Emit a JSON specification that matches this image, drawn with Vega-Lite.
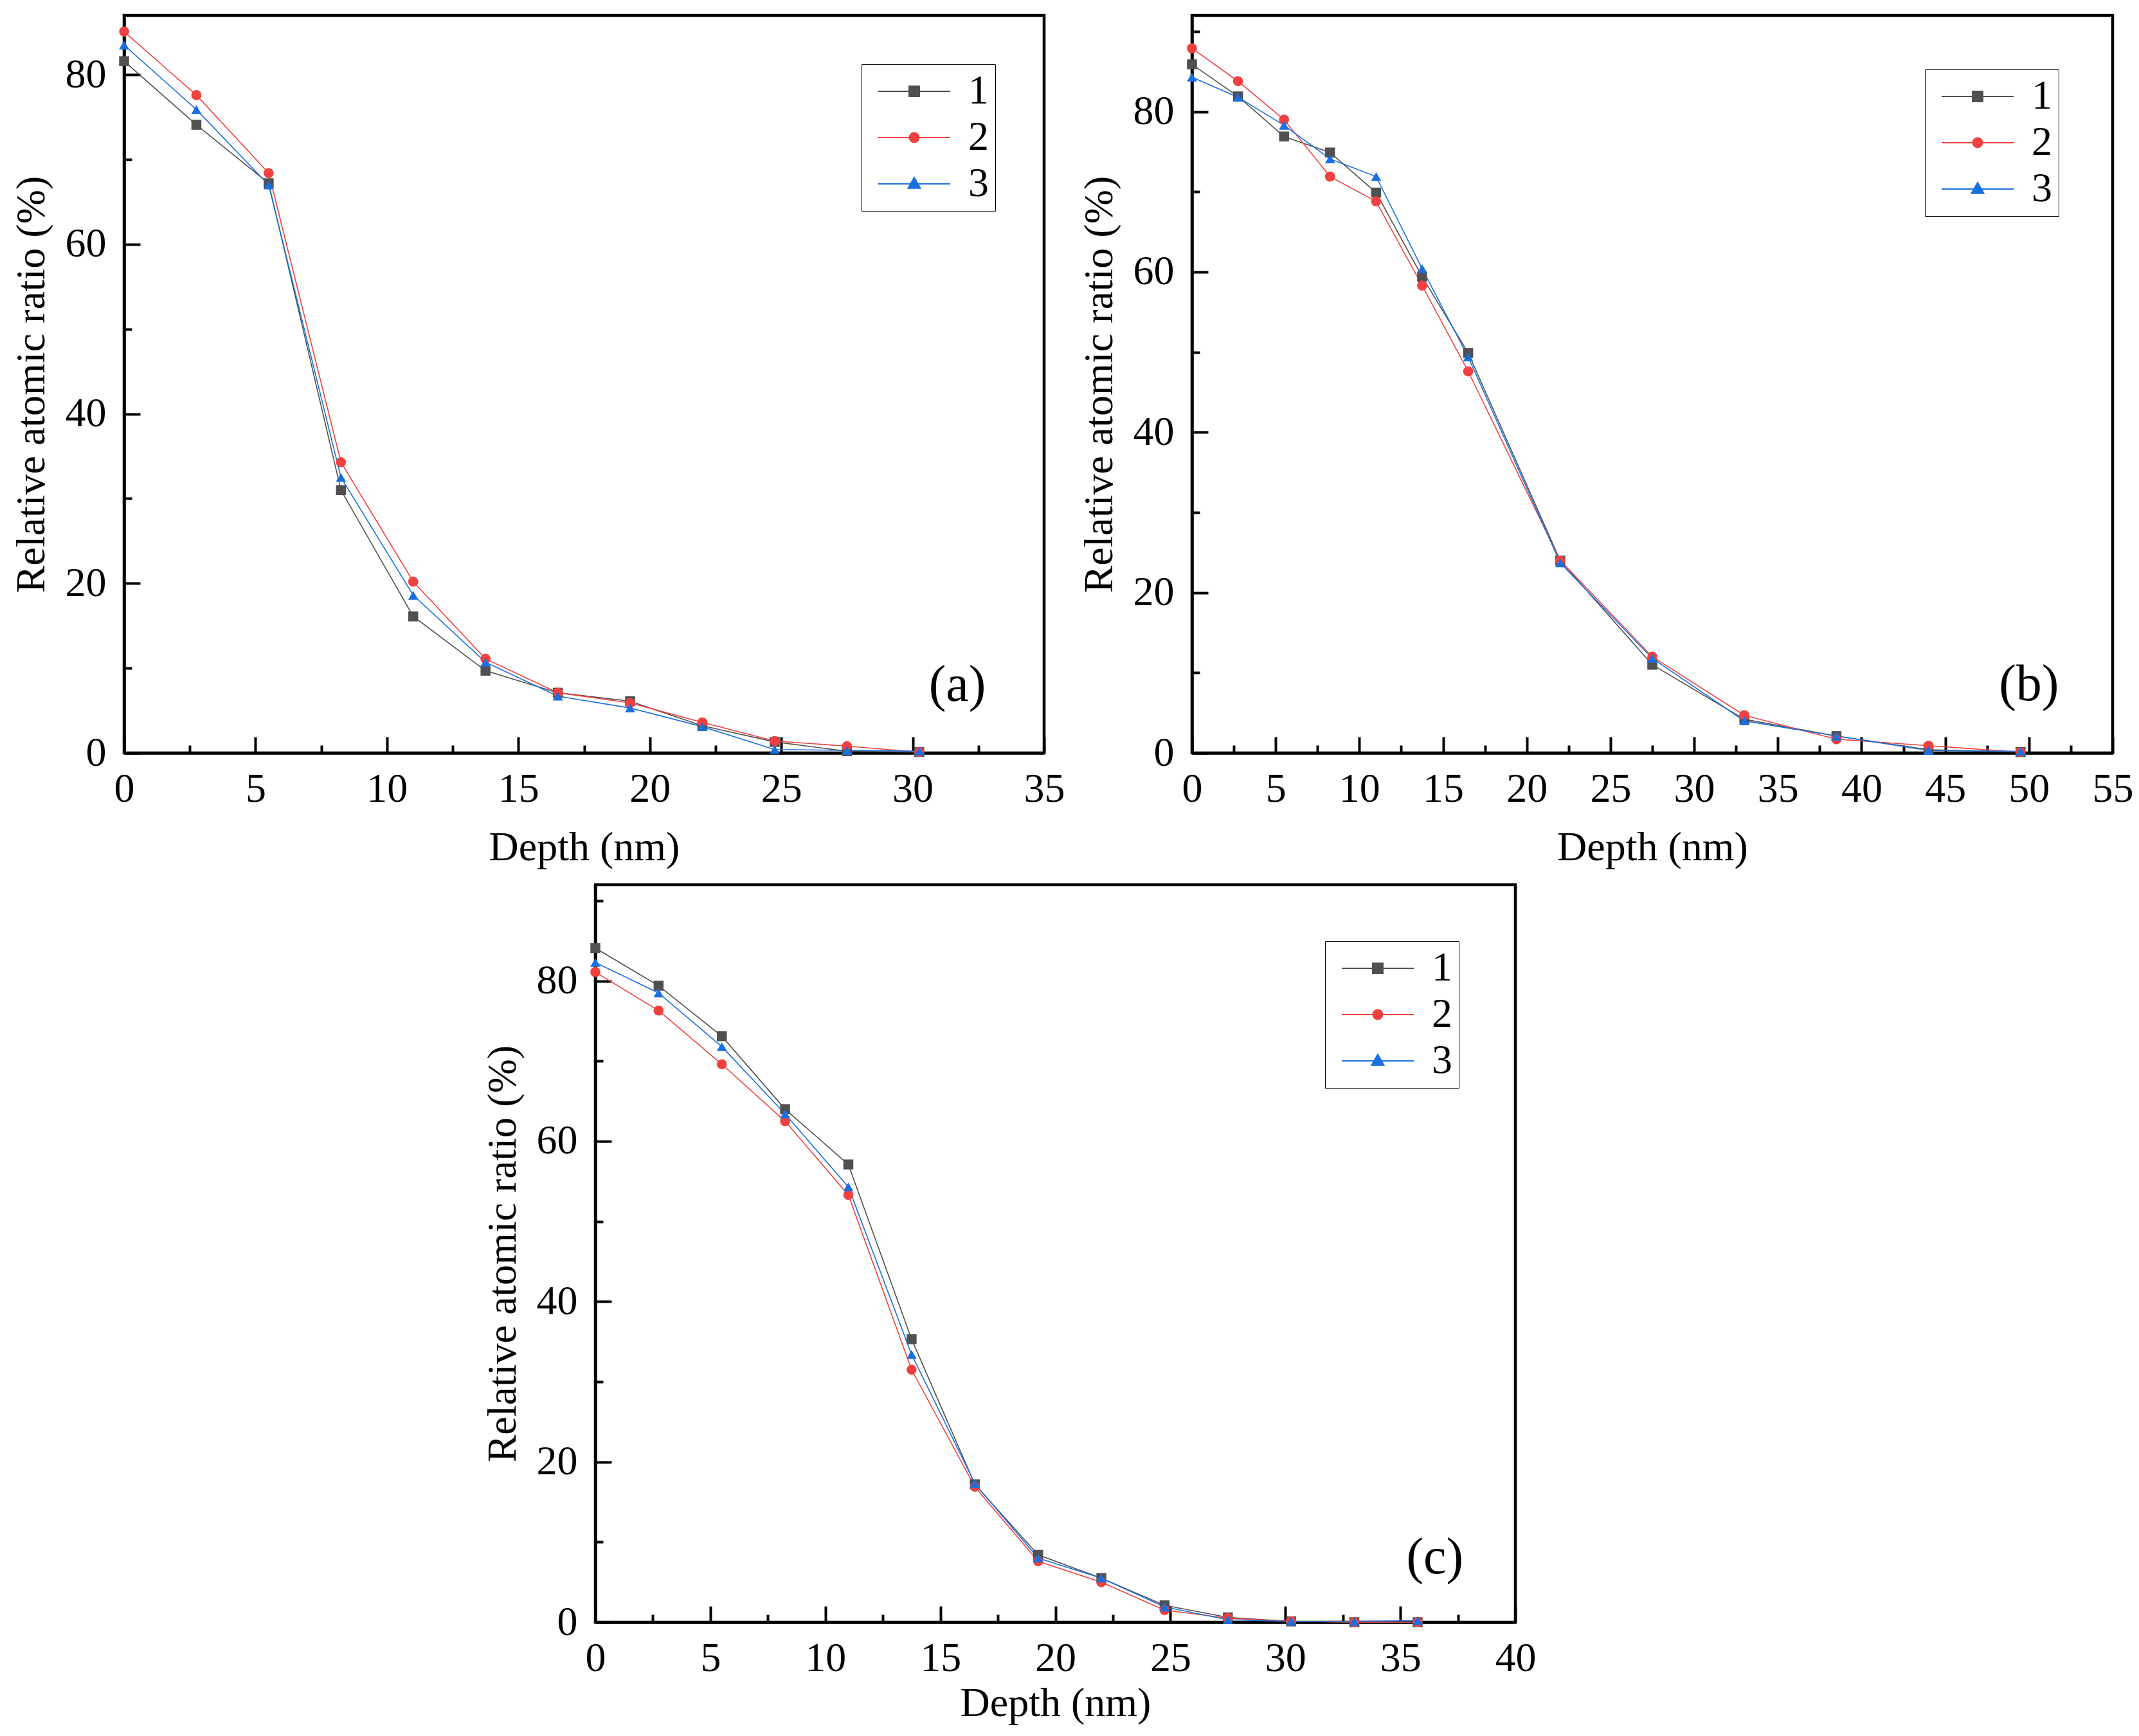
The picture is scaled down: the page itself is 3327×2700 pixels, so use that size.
{
  "$schema": "https://vega.github.io/schema/vega-lite/v6.json",
  "padding": {"left": 14, "top": 21, "right": 10, "bottom": 10},
  "background": "white",
  "config": {
    "font": "Liberation Serif",
    "view": {"stroke": "black", "strokeWidth": 4.5},
    "axis": {
      "grid": false,
      "domainColor": "black",
      "domainWidth": 4.5,
      "tickColor": "black",
      "tickWidth": 4,
      "labelFont": "Liberation Serif",
      "labelFontSize": 64,
      "labelColor": "black",
      "labelFlush": false,
      "labelOverlap": false,
      "labelBound": false,
      "titleFont": "Liberation Serif",
      "titleFontSize": 64,
      "titleFontWeight": "normal",
      "titleColor": "black"
    },
    "legend": {
      "title": null,
      "orient": "top-right",
      "offset": 78,
      "labelFont": "Liberation Serif",
      "labelFontSize": 64,
      "labelColor": "black",
      "strokeColor": "black",
      "fillColor": "white",
      "padding": 10,
      "rowPadding": 8,
      "symbolSize": 1024,
      "symbolStrokeWidth": 2,
      "labelOffset": 92
    }
  },
  "datasets": {
    "a": [
      {"depth": 0, "ratio": 81.6, "s": "1"}, {"depth": 2.75, "ratio": 74.1, "s": "1"}, {"depth": 5.5, "ratio": 67.2, "s": "1"},
      {"depth": 8.25, "ratio": 31.0, "s": "1"}, {"depth": 11, "ratio": 16.1, "s": "1"}, {"depth": 13.75, "ratio": 9.7, "s": "1"},
      {"depth": 16.5, "ratio": 7.1, "s": "1"}, {"depth": 19.25, "ratio": 6.1, "s": "1"}, {"depth": 22, "ratio": 3.2, "s": "1"},
      {"depth": 24.75, "ratio": 1.3, "s": "1"}, {"depth": 27.5, "ratio": 0.2, "s": "1"}, {"depth": 30.25, "ratio": 0.1, "s": "1"},
      {"depth": 0, "ratio": 85.1, "s": "2"}, {"depth": 2.75, "ratio": 77.6, "s": "2"}, {"depth": 5.5, "ratio": 68.4, "s": "2"},
      {"depth": 8.25, "ratio": 34.3, "s": "2"}, {"depth": 11, "ratio": 20.2, "s": "2"}, {"depth": 13.75, "ratio": 11.1, "s": "2"},
      {"depth": 16.5, "ratio": 7.1, "s": "2"}, {"depth": 19.25, "ratio": 5.9, "s": "2"}, {"depth": 22, "ratio": 3.6, "s": "2"},
      {"depth": 24.75, "ratio": 1.4, "s": "2"}, {"depth": 27.5, "ratio": 0.8, "s": "2"}, {"depth": 30.25, "ratio": 0.1, "s": "2"},
      {"depth": 0, "ratio": 83.5, "s": "3"}, {"depth": 2.75, "ratio": 75.9, "s": "3"}, {"depth": 5.5, "ratio": 67.0, "s": "3"},
      {"depth": 8.25, "ratio": 32.5, "s": "3"}, {"depth": 11, "ratio": 18.6, "s": "3"}, {"depth": 13.75, "ratio": 10.7, "s": "3"},
      {"depth": 16.5, "ratio": 6.7, "s": "3"}, {"depth": 19.25, "ratio": 5.3, "s": "3"}, {"depth": 22, "ratio": 3.1, "s": "3"},
      {"depth": 24.75, "ratio": 0.4, "s": "3"}, {"depth": 27.5, "ratio": 0.3, "s": "3"}, {"depth": 30.25, "ratio": 0.2, "s": "3"}
    ],
    "b": [
      {"depth": 0, "ratio": 85.9, "s": "1"}, {"depth": 2.75, "ratio": 81.9, "s": "1"}, {"depth": 5.5, "ratio": 76.9, "s": "1"},
      {"depth": 8.25, "ratio": 74.9, "s": "1"}, {"depth": 11, "ratio": 69.9, "s": "1"}, {"depth": 13.75, "ratio": 59.4, "s": "1"},
      {"depth": 16.5, "ratio": 49.9, "s": "1"}, {"depth": 22, "ratio": 24.0, "s": "1"}, {"depth": 27.5, "ratio": 11.0, "s": "1"},
      {"depth": 33, "ratio": 4.2, "s": "1"}, {"depth": 38.5, "ratio": 2.1, "s": "1"}, {"depth": 44, "ratio": 0.4, "s": "1"},
      {"depth": 49.5, "ratio": 0.1, "s": "1"},
      {"depth": 0, "ratio": 87.9, "s": "2"}, {"depth": 2.75, "ratio": 83.8, "s": "2"}, {"depth": 5.5, "ratio": 79.0, "s": "2"},
      {"depth": 8.25, "ratio": 71.9, "s": "2"}, {"depth": 11, "ratio": 68.8, "s": "2"}, {"depth": 13.75, "ratio": 58.3, "s": "2"},
      {"depth": 16.5, "ratio": 47.6, "s": "2"}, {"depth": 22, "ratio": 24.0, "s": "2"}, {"depth": 27.5, "ratio": 12.0, "s": "2"},
      {"depth": 33, "ratio": 4.7, "s": "2"}, {"depth": 38.5, "ratio": 1.7, "s": "2"}, {"depth": 44, "ratio": 0.9, "s": "2"},
      {"depth": 49.5, "ratio": 0.1, "s": "2"},
      {"depth": 0, "ratio": 84.3, "s": "3"}, {"depth": 2.75, "ratio": 81.8, "s": "3"}, {"depth": 5.5, "ratio": 78.3, "s": "3"},
      {"depth": 8.25, "ratio": 74.1, "s": "3"}, {"depth": 11, "ratio": 71.9, "s": "3"}, {"depth": 13.75, "ratio": 60.4, "s": "3"},
      {"depth": 16.5, "ratio": 49.4, "s": "3"}, {"depth": 22, "ratio": 23.7, "s": "3"}, {"depth": 27.5, "ratio": 11.8, "s": "3"},
      {"depth": 33, "ratio": 4.0, "s": "3"}, {"depth": 38.5, "ratio": 2.1, "s": "3"}, {"depth": 44, "ratio": 0.3, "s": "3"},
      {"depth": 49.5, "ratio": 0.2, "s": "3"}
    ],
    "c": [
      {"depth": 0, "ratio": 84.1, "s": "1"}, {"depth": 2.75, "ratio": 79.4, "s": "1"}, {"depth": 5.5, "ratio": 73.1, "s": "1"},
      {"depth": 8.25, "ratio": 64.0, "s": "1"}, {"depth": 11, "ratio": 57.1, "s": "1"}, {"depth": 13.75, "ratio": 35.3, "s": "1"},
      {"depth": 16.5, "ratio": 17.2, "s": "1"}, {"depth": 19.25, "ratio": 8.4, "s": "1"}, {"depth": 22, "ratio": 5.5, "s": "1"},
      {"depth": 24.75, "ratio": 2.1, "s": "1"}, {"depth": 27.5, "ratio": 0.6, "s": "1"}, {"depth": 30.25, "ratio": 0.1, "s": "1"},
      {"depth": 33, "ratio": 0, "s": "1"}, {"depth": 35.75, "ratio": 0, "s": "1"},
      {"depth": 0, "ratio": 81.1, "s": "2"}, {"depth": 2.75, "ratio": 76.3, "s": "2"}, {"depth": 5.5, "ratio": 69.6, "s": "2"},
      {"depth": 8.25, "ratio": 62.5, "s": "2"}, {"depth": 11, "ratio": 53.3, "s": "2"}, {"depth": 13.75, "ratio": 31.5, "s": "2"},
      {"depth": 16.5, "ratio": 16.9, "s": "2"}, {"depth": 19.25, "ratio": 7.6, "s": "2"}, {"depth": 22, "ratio": 5.0, "s": "2"},
      {"depth": 24.75, "ratio": 1.5, "s": "2"}, {"depth": 27.5, "ratio": 0.5, "s": "2"}, {"depth": 30.25, "ratio": 0.1, "s": "2"},
      {"depth": 33, "ratio": 0, "s": "2"}, {"depth": 35.75, "ratio": 0, "s": "2"},
      {"depth": 0, "ratio": 82.3, "s": "3"}, {"depth": 2.75, "ratio": 78.5, "s": "3"}, {"depth": 5.5, "ratio": 71.8, "s": "3"},
      {"depth": 8.25, "ratio": 63.4, "s": "3"}, {"depth": 11, "ratio": 54.3, "s": "3"}, {"depth": 13.75, "ratio": 33.4, "s": "3"},
      {"depth": 16.5, "ratio": 17.3, "s": "3"}, {"depth": 19.25, "ratio": 8.0, "s": "3"}, {"depth": 22, "ratio": 5.5, "s": "3"},
      {"depth": 24.75, "ratio": 1.9, "s": "3"}, {"depth": 27.5, "ratio": 0.3, "s": "3"}, {"depth": 30.25, "ratio": 0.1, "s": "3"},
      {"depth": 33, "ratio": 0.1, "s": "3"}, {"depth": 35.75, "ratio": 0.2, "s": "3"}
    ]
  },
  "spacing": 20,
  "vconcat": [
    {
      "bounds": "flush",
      "spacing": 230,
      "hconcat": [
        {
          "width": 1431,
          "height": 1147,
          "data": {"name": "a"},
          "resolve": {
            "scale": {"color": "independent", "shape": "independent", "stroke": "independent", "size": "independent"},
            "axis": {"x": "independent", "y": "independent"}
          },
          "layer": [
            {
              "mark": {"type": "line", "strokeWidth": 1.6},
              "encoding": {
                "x": {"field": "depth", "type": "quantitative", "scale": {"domain": [0, 35], "nice": false},
                  "axis": {"title": "Depth (nm)", "values": [0, 5, 10, 15, 20, 25, 30, 35], "tickSize": -25, "labelPadding": 49, "titlePadding": 27}},
                "y": {"field": "ratio", "type": "quantitative", "scale": {"domain": [0, 87], "nice": false},
                  "axis": {"title": "Relative atomic ratio (%)", "values": [0, 20, 40, 60, 80], "tickSize": -25, "labelPadding": 53, "titlePadding": 20}},
                "color": {"field": "s", "type": "nominal", "scale": {"domain": ["1", "2", "3"], "range": ["#505050", "#f04040", "#1a6fdf"]}, "legend": null}
              }
            },
            {
              "mark": {"type": "point", "filled": true, "opacity": 1},
              "encoding": {
                "x": {"field": "depth", "type": "quantitative", "axis": null},
                "y": {"field": "ratio", "type": "quantitative", "axis": null},
                "color": {"field": "s", "type": "nominal", "scale": {"domain": ["1", "2", "3"], "range": ["#505050", "#f04040", "#1a6fdf"]}, "legend": null},
                "shape": {"field": "s", "type": "nominal", "scale": {"domain": ["1", "2", "3"], "range": ["square", "circle", "triangle-up"]}, "legend": null},
                "size": {"field": "s", "type": "ordinal", "scale": {"domain": ["1", "2", "3"], "range": [240, 250, 360]}, "legend": null}
              }
            },
            {
              "transform": [{"filter": "false"}],
              "mark": {"type": "point", "filled": true, "opacity": 1, "size": 1024},
              "encoding": {
                "x": {"field": "depth", "type": "quantitative", "axis": null},
                "y": {"field": "ratio", "type": "quantitative", "axis": null},
                "color": {"field": "s", "type": "nominal", "scale": {"domain": ["1", "2", "3"], "range": ["#505050", "#f04040", "#1a6fdf"]}, "legend": {"offset": 76}},
                "stroke": {"field": "s", "type": "nominal", "scale": {"domain": ["1", "2", "3"], "range": ["#505050", "#f04040", "#1a6fdf"]}, "legend": {"offset": 76}},
                "shape": {"field": "s", "type": "nominal", "scale": {"domain": ["1", "2", "3"], "range": [
                  "M-1,0H6M2,-0.5H3V0.5H2Z",
                  "M-1,0H6M2.97,0A0.47,0.47,0,1,1,2.03,0A0.47,0.47,0,1,1,2.97,0Z",
                  "M-1,0H6M2.5,-0.62L3.1,0.42H1.9Z"]}, "legend": {"offset": 76}}
              }
            },
            {
              "mark": {"type": "point", "opacity": 0},
              "encoding": {
                "x": {"field": "depth", "type": "quantitative",
                  "axis": {"orient": "bottom", "values": [2.5, 7.5, 12.5, 17.5, 22.5, 27.5, 32.5], "tickSize": -12, "labels": false, "domain": false, "title": null}},
                "y": {"field": "ratio", "type": "quantitative",
                  "axis": {"orient": "left", "values": [10, 30, 50, 70], "tickSize": -12, "labels": false, "domain": false, "title": null}}
              }
            },
            {
              "data": {"values": [{}]},
              "mark": {"type": "text", "text": "(a)", "fontSize": 80, "font": "Liberation Serif", "color": "black", "align": "center", "baseline": "middle"},
              "encoding": {
                "x": {"datum": 31.7, "type": "quantitative", "axis": null},
                "y": {"datum": 8.0, "type": "quantitative", "axis": null}
              }
            }
          ]
        },
        {
          "width": 1432,
          "height": 1147,
          "data": {"name": "b"},
          "resolve": {
            "scale": {"color": "independent", "shape": "independent", "stroke": "independent", "size": "independent"},
            "axis": {"x": "independent", "y": "independent"}
          },
          "layer": [
            {
              "mark": {"type": "line", "strokeWidth": 1.6},
              "encoding": {
                "x": {"field": "depth", "type": "quantitative", "scale": {"domain": [0, 55], "nice": false},
                  "axis": {"title": "Depth (nm)", "values": [0, 5, 10, 15, 20, 25, 30, 35, 40, 45, 50, 55], "tickSize": -25, "labelPadding": 49, "titlePadding": 27}},
                "y": {"field": "ratio", "type": "quantitative", "scale": {"domain": [0, 92], "nice": false},
                  "axis": {"title": "Relative atomic ratio (%)", "values": [0, 20, 40, 60, 80], "tickSize": -25, "labelPadding": 53, "titlePadding": 20}},
                "color": {"field": "s", "type": "nominal", "scale": {"domain": ["1", "2", "3"], "range": ["#505050", "#f04040", "#1a6fdf"]}, "legend": null}
              }
            },
            {
              "mark": {"type": "point", "filled": true, "opacity": 1},
              "encoding": {
                "x": {"field": "depth", "type": "quantitative", "axis": null},
                "y": {"field": "ratio", "type": "quantitative", "axis": null},
                "color": {"field": "s", "type": "nominal", "scale": {"domain": ["1", "2", "3"], "range": ["#505050", "#f04040", "#1a6fdf"]}, "legend": null},
                "shape": {"field": "s", "type": "nominal", "scale": {"domain": ["1", "2", "3"], "range": ["square", "circle", "triangle-up"]}, "legend": null},
                "size": {"field": "s", "type": "ordinal", "scale": {"domain": ["1", "2", "3"], "range": [240, 250, 360]}, "legend": null}
              }
            },
            {
              "transform": [{"filter": "false"}],
              "mark": {"type": "point", "filled": true, "opacity": 1, "size": 1024},
              "encoding": {
                "x": {"field": "depth", "type": "quantitative", "axis": null},
                "y": {"field": "ratio", "type": "quantitative", "axis": null},
                "color": {"field": "s", "type": "nominal", "scale": {"domain": ["1", "2", "3"], "range": ["#505050", "#f04040", "#1a6fdf"]}, "legend": {"offset": 84}},
                "stroke": {"field": "s", "type": "nominal", "scale": {"domain": ["1", "2", "3"], "range": ["#505050", "#f04040", "#1a6fdf"]}, "legend": {"offset": 84}},
                "shape": {"field": "s", "type": "nominal", "scale": {"domain": ["1", "2", "3"], "range": [
                  "M-1,0H6M2,-0.5H3V0.5H2Z",
                  "M-1,0H6M2.97,0A0.47,0.47,0,1,1,2.03,0A0.47,0.47,0,1,1,2.97,0Z",
                  "M-1,0H6M2.5,-0.62L3.1,0.42H1.9Z"]}, "legend": {"offset": 84}}
              }
            },
            {
              "mark": {"type": "point", "opacity": 0},
              "encoding": {
                "x": {"field": "depth", "type": "quantitative",
                  "axis": {"orient": "bottom", "values": [2.5, 7.5, 12.5, 17.5, 22.5, 27.5, 32.5, 37.5, 42.5, 47.5, 52.5], "tickSize": -12, "labels": false, "domain": false, "title": null}},
                "y": {"field": "ratio", "type": "quantitative",
                  "axis": {"orient": "left", "values": [10, 30, 50, 70, 90], "tickSize": -12, "labels": false, "domain": false, "title": null}}
              }
            },
            {
              "data": {"values": [{}]},
              "mark": {"type": "text", "text": "(b)", "fontSize": 80, "font": "Liberation Serif", "color": "black", "align": "center", "baseline": "middle"},
              "encoding": {
                "x": {"datum": 50.0, "type": "quantitative", "axis": null},
                "y": {"datum": 8.5, "type": "quantitative", "axis": null}
              }
            }
          ]
        }
      ]
    },
    {
      "bounds": "flush",
      "spacing": 0,
      "hconcat": [
        {
          "width": 733,
          "height": 10,
          "data": {"values": []},
          "mark": "point",
          "view": {"stroke": null}
        },
        {
          "width": 1431,
          "height": 1147,
          "data": {"name": "c"},
          "resolve": {
            "scale": {"color": "independent", "shape": "independent", "stroke": "independent", "size": "independent"},
            "axis": {"x": "independent", "y": "independent"}
          },
          "layer": [
            {
              "mark": {"type": "line", "strokeWidth": 1.6},
              "encoding": {
                "x": {"field": "depth", "type": "quantitative", "scale": {"domain": [0, 40], "nice": false},
                  "axis": {"title": "Depth (nm)", "values": [0, 5, 10, 15, 20, 25, 30, 35, 40], "tickSize": -25, "labelPadding": 49, "titlePadding": 6}},
                "y": {"field": "ratio", "type": "quantitative", "scale": {"domain": [0, 92], "nice": false},
                  "axis": {"title": "Relative atomic ratio (%)", "values": [0, 20, 40, 60, 80], "tickSize": -25, "labelPadding": 53, "titlePadding": 20}},
                "color": {"field": "s", "type": "nominal", "scale": {"domain": ["1", "2", "3"], "range": ["#505050", "#f04040", "#1a6fdf"]}, "legend": null}
              }
            },
            {
              "mark": {"type": "point", "filled": true, "opacity": 1},
              "encoding": {
                "x": {"field": "depth", "type": "quantitative", "axis": null},
                "y": {"field": "ratio", "type": "quantitative", "axis": null},
                "color": {"field": "s", "type": "nominal", "scale": {"domain": ["1", "2", "3"], "range": ["#505050", "#f04040", "#1a6fdf"]}, "legend": null},
                "shape": {"field": "s", "type": "nominal", "scale": {"domain": ["1", "2", "3"], "range": ["square", "circle", "triangle-up"]}, "legend": null},
                "size": {"field": "s", "type": "ordinal", "scale": {"domain": ["1", "2", "3"], "range": [240, 250, 360]}, "legend": null}
              }
            },
            {
              "transform": [{"filter": "false"}],
              "mark": {"type": "point", "filled": true, "opacity": 1, "size": 1024},
              "encoding": {
                "x": {"field": "depth", "type": "quantitative", "axis": null},
                "y": {"field": "ratio", "type": "quantitative", "axis": null},
                "color": {"field": "s", "type": "nominal", "scale": {"domain": ["1", "2", "3"], "range": ["#505050", "#f04040", "#1a6fdf"]}, "legend": {"offset": 88}},
                "stroke": {"field": "s", "type": "nominal", "scale": {"domain": ["1", "2", "3"], "range": ["#505050", "#f04040", "#1a6fdf"]}, "legend": {"offset": 88}},
                "shape": {"field": "s", "type": "nominal", "scale": {"domain": ["1", "2", "3"], "range": [
                  "M-1,0H6M2,-0.5H3V0.5H2Z",
                  "M-1,0H6M2.97,0A0.47,0.47,0,1,1,2.03,0A0.47,0.47,0,1,1,2.97,0Z",
                  "M-1,0H6M2.5,-0.62L3.1,0.42H1.9Z"]}, "legend": {"offset": 88}}
              }
            },
            {
              "mark": {"type": "point", "opacity": 0},
              "encoding": {
                "x": {"field": "depth", "type": "quantitative",
                  "axis": {"orient": "bottom", "values": [2.5, 7.5, 12.5, 17.5, 22.5, 27.5, 32.5, 37.5], "tickSize": -12, "labels": false, "domain": false, "title": null}},
                "y": {"field": "ratio", "type": "quantitative",
                  "axis": {"orient": "left", "values": [10, 30, 50, 70, 90], "tickSize": -12, "labels": false, "domain": false, "title": null}}
              }
            },
            {
              "data": {"values": [{}]},
              "mark": {"type": "text", "text": "(c)", "fontSize": 80, "font": "Liberation Serif", "color": "black", "align": "center", "baseline": "middle"},
              "encoding": {
                "x": {"datum": 36.5, "type": "quantitative", "axis": null},
                "y": {"datum": 8.0, "type": "quantitative", "axis": null}
              }
            }
          ]
        }
      ]
    }
  ]
}
